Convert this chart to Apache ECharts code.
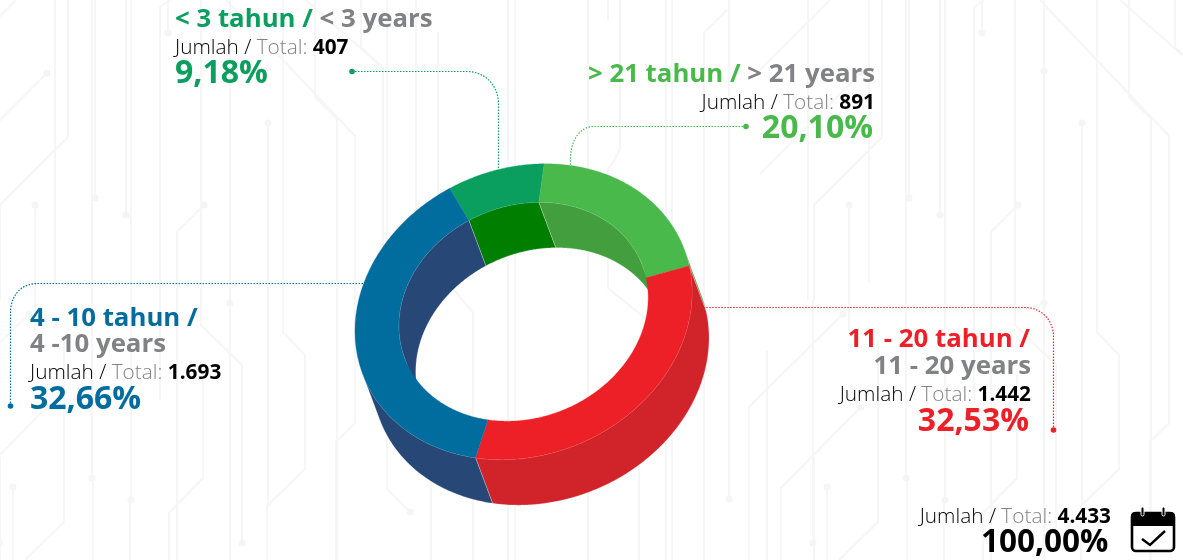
<!DOCTYPE html>
<html><head><meta charset="utf-8">
<style>html,body{margin:0;padding:0;background:#fff}#c{width:1183px;height:560px}</style>
<script src="https://cdn.jsdelivr.net/npm/echarts@6/dist/echarts.min.js"></script>
</head><body><div id="c"></div>
<script>
// ---- data, in drawing order (clockwise round the ring) ----
const categoriesId = ['< 3 tahun /', '> 21 tahun /', '11 - 20 tahun /', '4 - 10 tahun /'];
const categoriesEn = ['< 3 years', '> 21 years', '11 - 20 years', '4 -10 years'];
const values = [407, 891, 1442, 1693];
const valueLabels = ['407', '891', '1.442', '1.693'];
const percentLabels = ['9,18%', '20,10%', '32,53%', '32,66%'];
const totalLabel = '4.433';
const totalPercent = '100,00%';
const faceColors = ['#0a9f5e', '#4ab94c', '#ed1f27', '#006d9e'];
const wallColors = ['#007e00', '#439e3e', '#d0232a', '#274877'];

// ---- ring geometry ----
const ring = {cx:523.5, cy:311.7, a:172.5, b:143.3, inner:0.74, tilt:22.5, dx:17, dy:45.5, startDeg:-97};
const rad = Math.PI/180;
const e1 = [Math.cos(ring.tilt*rad), -Math.sin(ring.tilt*rad)];
const e2 = [Math.sin(ring.tilt*rad), Math.cos(ring.tilt*rad)];
const total = values.reduce((s,v)=>s+v,0);
const D1 = ring.dx*e1[0]+ring.dy*e1[1], D2 = ring.dx*e2[0]+ring.dy*e2[1];
function pt(deg,k,shift){
  const u=ring.a*k*Math.cos(deg*rad), v=ring.b*k*Math.sin(deg*rad);
  return [ring.cx+u*e1[0]+v*e2[0]+(shift?ring.dx:0), ring.cy+u*e1[1]+v*e2[1]+(shift?ring.dy:0)];
}
function facing(deg){ return ring.b*Math.cos(deg*rad)*D1 + ring.a*Math.sin(deg*rad)*D2; }
function degs(s,e,test){ const o=[]; for(let d=s;d<e;d+=0.5){ if(!test||test(d)) o.push(d);} if(!test||test(e)) o.push(e); return o; }
let running=0;
const rows = values.map((v,i)=>{ const r=[running,running+v,i]; running+=v; return r; });

function renderer(layer){
  return function(params,api){
    const s=ring.startDeg+api.value(0)/total*360, e=ring.startDeg+api.value(1)/total*360, i=api.value(2);
    let points=[];
    if(layer==='face'){
      const ds=degs(s,e);
      points=ds.map(d=>pt(d,1,false)).concat(ds.slice().reverse().map(d=>pt(d,ring.inner,false)));
    } else {
      const outer=layer==='outer', k=outer?1:ring.inner;
      const ds=degs(s,e,d=>outer?facing(d)>0:facing(d)<0);
      if(ds.length<2) return {type:'group',children:[]};
      points=ds.map(d=>pt(d,k,false)).concat(ds.slice().reverse().map(d=>pt(d,k,true)));
    }
    return {type:'polygon',shape:{points},style:{
      fill:layer==='face'?faceColors[i]:wallColors[i],
      stroke:layer==='face'?faceColors[i]:'rgba(255,255,255,0.35)',
      lineWidth:layer==='face'?0.3:0.7}};
  };
}
const ringSeries=['outer','inner','face'].map((layer,n)=>({
  type:'custom',coordinateSystem:'none',z:3+n,silent:true,animation:false,
  renderItem:renderer(layer),data:rows
}));

// ---- decorative circuit background (tile repeating every 814 px) ----
const circuit=[
 [[68,0],[68,137],[0,205],[0,300]],[[55,0],[55,283]],[[35,205],[35,330]],[[13,487],[13,560]],
 [[0,457],[0,560]],[[64,340],[64,522],[25,560]],[[92,0],[92,478]],[[95,0],[95,198]],[[93,478],[93,560]],
 [[126,0],[126,215]],[[131,0],[131,500]],[[130,500],[130,560]],[[160,7],[170,0]],[[160,7],[160,400]],
 [[168,0],[168,33]],[[204,205],[177,232],[177,560]],[[201,0],[201,325],[242,365],[242,543]],
 [[203,370],[203,478],[169,513],[169,560]],[[230,0],[230,560]],[[268,123],[268,506]],
 [[305,355],[305,469],[267,506],[267,560]],[[283,0],[283,332],[305,355]],
 [[226,0],[355,136],[355,423],[336,442],[336,560]],[[315,0],[315,97],[337,119],[337,560]],
 [[306,0],[383,68]],[[361,0],[361,47],[383,68],[383,300]],[[387,0],[387,489],[410,512]],
 [[416,0],[416,300]],[[438,32],[438,300]],[[431,480],[431,560]],[[452,287],[473,313],[473,560]],
 [[508,0],[508,560]],[[515,0],[515,560]],[[588,0],[588,560]],[[608,0],[608,20]],[[620,0],[620,150]],
 [[620,150],[608,170],[608,288],[647,320],[647,400]],[[639,440],[639,560]],[[666,0],[666,560]],[[672,0],[672,560]],
 [[727,10],[704,33],[704,560]],[[729,0],[729,499]],[[843,314],[749,407],[749,560]],[[767,350],[767,560]],
 [[808,0],[808,300]],[[830,0],[760,70]],[[861,73],[760,174]],[[861,407],[781,488],[781,560]],[[813,300],[813,543]]
];
const circuitDots=[[47,73],[35,205],[13,487],[92,478],[95,198],[126,215],[131,500],[168,33],[204,205],[242,543],[230,303],
 [268,123],[410,512],[729,499],[843,314],[813,543],[861,407],[230,71]];

const graphics=[];
[-814,0,814].forEach(off=>{
  circuit.forEach(l=>graphics.push({type:'polyline',silent:true,shape:{points:l.map(p=>[p[0]+off,p[1]])},
    style:{stroke:'#f6f6f6',lineWidth:2,fill:null}}));
  circuitDots.forEach(d=>graphics.push({type:'circle',silent:true,shape:{cx:d[0]+off,cy:d[1],r:3.6},style:{fill:'#f5f5f5'}}));
});

// ---- leaders: start, corner start, two bezier handles, corner end, end ----
const leaders=[
 [[352,71.5],[468,71.5],[485,72],[498,85],[498.5,103],[498.5,168]],
 [[746,126.5],[593,126.5],[580,127],[571,140],[570.5,157],[570.5,166]],
 [[1053.5,430],[1053.5,336],[1053,320],[1042,308],[1025,307.5],[704,307.5]],
 [[10.5,406],[10.5,312],[11,296],[20,284],[37,283.5],[364,283.5]]
];
leaders.forEach((L,i)=>{
  const pts=[L[0]];
  for(let t=0;t<=1.0001;t+=1/16){
    const m=1-t, f=j=>m*m*m*L[1][j]+3*m*m*t*L[2][j]+3*m*t*t*L[3][j]+t*t*t*L[4][j];
    pts.push([f(0),f(1)]);
  }
  pts.push(L[5]);
  graphics.push({type:'polyline',silent:true,z:9,shape:{points:pts},style:{stroke:faceColors[i],lineWidth:1.2,lineDash:[1.5,1.5],fill:null}});
  graphics.push({type:'circle',silent:true,z:9,shape:{cx:L[0][0],cy:L[0][1],r:2.8},style:{fill:faceColors[i]}});
});

// ---- labels ----
const FF='"Open Sans","Noto Sans",sans-serif';
function text(x,y,align,str,rich){
  graphics.push({type:'text',silent:true,z:10,x,y:y+2,style:{text:str,rich,align,verticalAlign:'middle',fontFamily:FF}});
}
const TS=25.8, MS=20.8, PS=32;
function totalLine(x,y,align,val){
  text(x,y,align,'{a|Jumlah / }{b|Total: }{c|'+val+'}',{
    a:{fontFamily:FF,fontSize:MS,fontWeight:300,fill:'#000'},
    b:{fontFamily:FF,fontSize:MS,fontWeight:300,fill:'#808285'},
    c:{fontFamily:FF,fontSize:MS,fontWeight:700,fill:'#000'}});
}
function pct(x,y,align,str,color,size){
  text(x,y,align,'{p|'+str+'}',{p:{fontFamily:FF,fontSize:size||PS,fontWeight:700,fill:color}});
}
function head(x,y,align,str,color){
  text(x,y,align,'{t|'+str+'}',{t:{fontFamily:FF,fontSize:TS,fontWeight:700,fill:color}});
}
const GREY='#808285';
text(175,18,'left','{t|'+categoriesId[0]+' }{g|'+categoriesEn[0]+'}',{
  t:{fontFamily:FF,fontSize:TS,fontWeight:700,fill:faceColors[0]},g:{fontFamily:FF,fontSize:TS,fontWeight:700,fill:GREY}});
totalLine(175,46,'left',valueLabels[0]);
pct(175,72,'left',percentLabels[0],faceColors[0]);
text(875,73,'right','{t|'+categoriesId[1]+' }{g|'+categoriesEn[1]+'}',{
  t:{fontFamily:FF,fontSize:TS,fontWeight:700,fill:faceColors[1]},g:{fontFamily:FF,fontSize:TS,fontWeight:700,fill:GREY}});
totalLine(875,101,'right',valueLabels[1]);
pct(873,127,'right',percentLabels[1],faceColors[1]);
head(1030,338,'right',categoriesId[2],faceColors[2]);
head(1031,365,'right',categoriesEn[2],GREY);
totalLine(1031,393,'right',valueLabels[2]);
pct(1029,420,'right',percentLabels[2],faceColors[2]);
head(30,317,'left',categoriesId[3],faceColors[3]);
head(30,343,'left',categoriesEn[3],GREY);
totalLine(30,371,'left',valueLabels[3]);
pct(30,398,'left',percentLabels[3],faceColors[3]);
totalLine(1111,515,'right',totalLabel);
pct(1108.5,541,'right',totalPercent,'#000',31.5);

// ---- calendar icon ----
graphics.push({type:'rect',silent:true,z:10,shape:{x:1132,y:513,width:42,height:38,r:4},style:{fill:'#fff',stroke:'#000',lineWidth:2.6}});
graphics.push({type:'rect',silent:true,z:10,shape:{x:1131,y:512,width:44,height:14,r:[4,4,0,0]},style:{fill:'#000'}});
[1142.5,1163.5].forEach(x=>graphics.push({type:'rect',silent:true,z:11,shape:{x:x-1.5,y:507,width:3,height:9,r:1.5},style:{fill:'#000',stroke:'#fff',lineWidth:1}}));
graphics.push({type:'polyline',silent:true,z:10,shape:{points:[[1142,539],[1150,545],[1165,531]]},style:{stroke:'#000',lineWidth:2.4,fill:null}});

const chart=echarts.init(document.getElementById('c'),null,{renderer:'canvas'});
chart.setOption({animation:false,backgroundColor:'#fff',graphic:{elements:graphics},series:ringSeries});
</script></body></html>
